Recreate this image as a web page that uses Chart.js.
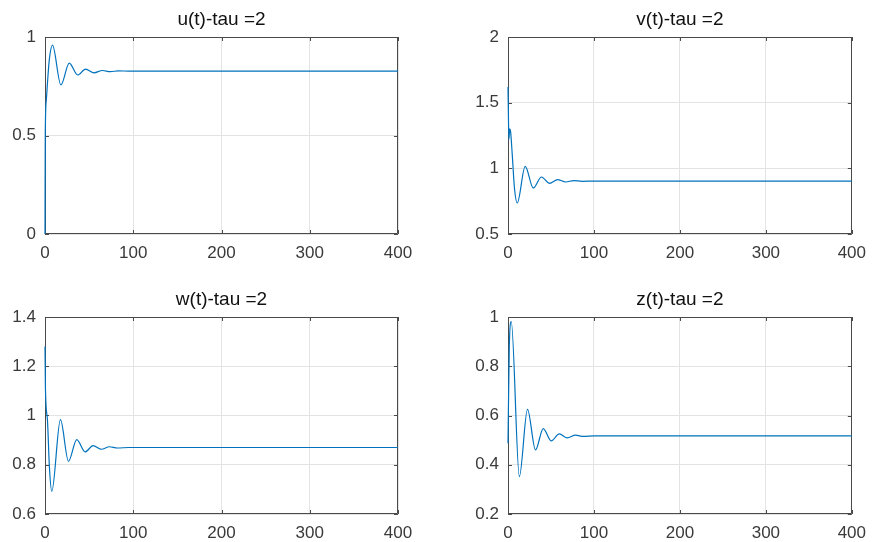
<!DOCTYPE html>
<html>
<head>
<meta charset="utf-8">
<script src="https://cdn.jsdelivr.net/npm/chart.js@4.4.1/dist/chart.umd.min.js"></script>
<style>
  body { margin: 0; background: #fff; width: 875px; height: 542px; position: relative; overflow: hidden; }
  canvas { position: absolute; }
</style>
</head>
<body>
<canvas id="uChart" width="437" height="271" style="left:0px;top:0px"></canvas>
<canvas id="vChart" width="438" height="271" style="left:437px;top:0px"></canvas>
<canvas id="wChart" width="437" height="262" style="left:0px;top:280px"></canvas>
<canvas id="zChart" width="438" height="262" style="left:437px;top:280px"></canvas>
<script>
// time axis ticks (shared)
const xTicks = [0, 100, 200, 300, 400];

// u(t)
const tU = [0, 0.3, 1.5, 3, 5, 8.5, 18, 27.5, 37, 46, 55.5, 65, 74, 83, 95, 400];
const uVals = [0, 0.5, 0.68, 0.78, 0.89, 0.959, 0.757, 0.867, 0.807, 0.837, 0.818, 0.830, 0.824, 0.828, 0.827, 0.827];
const uTicks = [0, 0.5, 1];

// v(t)
const tV = [0, 0.5, 1, 2, 3, 5, 7.5, 10.8, 20, 29.4, 38.9, 48.3, 57.7, 67, 76.6, 86, 100, 400];
const vVals = [1.62, 1.4, 1.22, 1.3, 1.28, 1.1, 0.85, 0.736, 1.015, 0.85, 0.934, 0.886, 0.914, 0.896, 0.907, 0.901, 0.903, 0.903];
const vTicks = [0.5, 1, 1.5, 2];

// w(t)
const tW = [0, 0.5, 2.8, 5, 7.7, 17.5, 26.6, 36, 45.5, 54.5, 64, 73, 82, 95, 400];
const wVals = [1.28, 1.11, 0.98, 0.79, 0.692, 0.983, 0.814, 0.902, 0.852, 0.878, 0.863, 0.873, 0.868, 0.870, 0.870];
const wTicks = [0.6, 0.8, 1, 1.2, 1.4];

// z(t)
const tZ = [0, 1.5, 3.8, 13.2, 22.7, 32, 41, 50.3, 59.7, 69, 78.4, 88, 100, 400];
const zVals = [0.487, 0.88, 0.981, 0.352, 0.625, 0.46, 0.547, 0.497, 0.525, 0.509, 0.52, 0.515, 0.517, 0.517];
const zTicks = [0.2, 0.4, 0.6, 0.8, 1];

const fontFamily = "'Liberation Sans', Arial, Helvetica, sans-serif";

// matlab-ish axes box, inward ticks and title
const framePlugin = {
  id: "frame",
  beforeDatasetsDraw(chart) {
    const ctx = chart.ctx;
    const a = chart.chartArea;
    const xs = chart.scales.x;
    const ys = chart.scales.y;
    ctx.save();
    ctx.strokeStyle = "#4a4a4a";
    ctx.lineWidth = 1;
    ctx.beginPath();
    ctx.rect(Math.round(a.left) + 0.5, Math.round(a.top) + 0.5, Math.round(a.right - a.left) - 1, Math.round(a.bottom - a.top) - 1);
    ctx.stroke();
    ctx.beginPath();
    xs.ticks.forEach((t) => {
      const px = Math.round(xs.getPixelForValue(t.value)) + 0.5;
      ctx.moveTo(px, a.bottom);
      ctx.lineTo(px, a.bottom - 4);
      ctx.moveTo(px, a.top);
      ctx.lineTo(px, a.top + 4);
    });
    ys.ticks.forEach((t) => {
      const py = Math.round(ys.getPixelForValue(t.value)) + 0.5;
      ctx.moveTo(a.left, py);
      ctx.lineTo(a.left + 4, py);
      ctx.moveTo(a.right, py);
      ctx.lineTo(a.right - 4, py);
    });
    ctx.stroke();
    ctx.restore();
  },
  afterDraw(chart, args, opts) {
    const ctx = chart.ctx;
    const a = chart.chartArea;
    ctx.save();
    ctx.fillStyle = "#111";
    ctx.font = "19px " + fontFamily;
    ctx.textAlign = "center";
    ctx.textBaseline = "middle";
    ctx.fillText(opts.title, (a.left + a.right) / 2, a.top - 17);
    ctx.restore();
  },
};

function makeChart(id, tVals, yVals, yTicks, title, yWidth, padRight, xHeight) {
  const points = tVals.map((t, i) => ({ x: t, y: yVals[i] }));
  return new Chart(document.getElementById(id), {
    type: "line",
    data: {
      datasets: [
        {
          data: points,
          borderColor: "#0072BD",
          borderWidth: 1.2,
          pointRadius: 0,
          cubicInterpolationMode: "monotone",
          fill: false,
          clip: 3,
        },
      ],
    },
    options: {
      responsive: false,
      animation: false,
      layout: { padding: { top: 37, right: padRight, left: 0, bottom: 0 } },
      plugins: {
        legend: { display: false },
        tooltip: { enabled: false },
        frame: { title: title },
      },
      scales: {
        x: {
          type: "linear",
          min: 0,
          max: 400,
          afterBuildTicks: (axis) => { axis.ticks = xTicks.map((v) => ({ value: v })); },
          afterFit: (axis) => { axis.height = xHeight; },
          grid: { color: "#e3e3e3", drawTicks: false },
          border: { display: false },
          ticks: {
            padding: 9,
            maxRotation: 0,
            color: "#3a3a3a",
            font: { family: fontFamily, size: 17 },
          },
        },
        y: {
          type: "linear",
          min: yTicks[0],
          max: yTicks[yTicks.length - 1],
          afterBuildTicks: (axis) => { axis.ticks = yTicks.map((v) => ({ value: v })); },
          afterFit: (axis) => { axis.width = yWidth; },
          grid: { color: "#e3e3e3", drawTicks: false },
          border: { display: false },
          ticks: {
            padding: 9,
            color: "#3a3a3a",
            font: { family: fontFamily, size: 17 },
            callback: (value) => String(value),
          },
        },
      },
    },
    plugins: [framePlugin],
  });
}

makeChart("uChart", tU, uVals, uTicks, "u(t)-tau =2", 45, 39, 37);
makeChart("vChart", tV, vVals, vTicks, "v(t)-tau =2", 71, 15, 37);
makeChart("wChart", tW, wVals, wTicks, "w(t)-tau =2", 45, 39, 28);
makeChart("zChart", tZ, zVals, zTicks, "z(t)-tau =2", 71, 15, 28);
</script>
</body>
</html>
